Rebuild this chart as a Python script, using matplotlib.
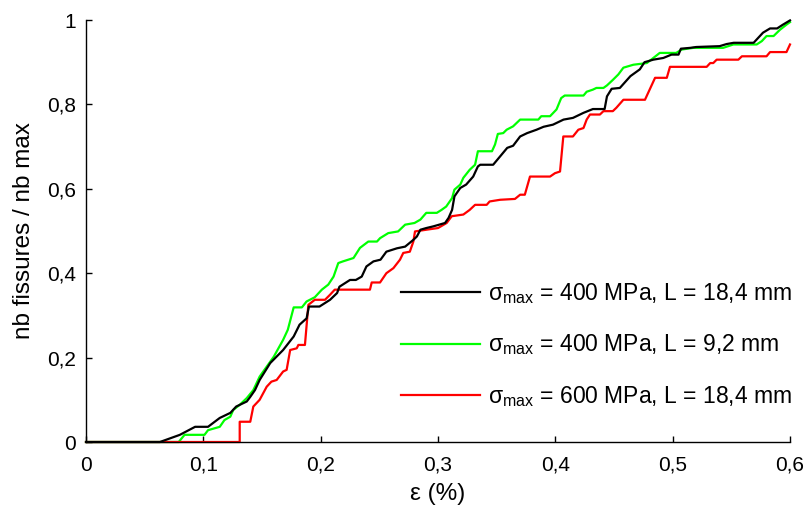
import matplotlib
matplotlib.use("Agg")
import matplotlib.pyplot as plt

plt.rcParams['font.family'] = ['Liberation Sans', 'DejaVu Sans']
plt.rcParams['mathtext.fontset'] = 'custom'
plt.rcParams['mathtext.rm'] = 'Liberation Sans'
plt.rcParams['mathtext.it'] = 'Liberation Sans'

# ---- data ----
black_x = [0, .063, .080, .093, .104, .114, .123, .128, .137, .140, .144, .148, .157, .168, .177, .182, .188, .190,
           .199, .208, .214, .216, .225, .230, .235, .239, .245, .251, .256, .265, .272, .279, .282, .285, .290, .296,
           .306, .309, .312, .314, .319, .324, .330, .334, .336, .347, .353, .359, .364, .370, .376, .384, .390, .398,
           .407, .415, .424, .432, .442, .444, .448, .455, .464, .472, .476, .4835, .492, .499, .505, .507, .515, .520,
           .540, .546, .552, .569, .577, .583, .589, .594, .600]
black_y = [0, 0, .017, .036, .036, .057, .069, .084, .096, .107, .123, .147, .187, .218, .250, .278, .293, .321,
           .321, .337, .353, .368, .384, .384, .392, .416, .428, .432, .451, .459, .463, .479, .487, .503, .507, .511,
           .519, .531, .550, .582, .602, .610, .629, .653, .657, .657, .677, .697, .702, .724, .732, .740, .747, .752,
           .764, .768, .780, .789, .789, .819, .837, .839, .867, .883, .900, .906, .910, .918, .918, .932, .934, .936,
           .938, .943, .946, .946, .970, .980, .980, .989, .999]

green_x = [0, .079, .084, .101, .104, .114, .118, .123, .1255, .131, .137, .1426, .148, .160, .168, .172, .177, .184,
           .188, .195, .201, .2065, .211, .215, .219, .228, .2335, .2406, .248, .2506, .2576, .266, .272, .280, .285,
           .290, .299, .303, .307, .312, .314, .319, .3216, .327, .3316, .334, .346, .3486, .351, .3556, .3585, .364,
           .370, .3855, .388, .3955, .401, .405, .408, .424, .4267, .432, .435, .441, .444, .449, .4537, .458, .4665,
           .478, .4835, .489, .503, .5077, .5176, .543, .5517, .5716, .576, .580, .586, .5915, .597, .600]
green_y = [0, 0, .017, .017, .028, .036, .052, .060, .076, .088, .104, .123, .155, .202, .242, .266, .319, .319,
           .333, .343, .361, .373, .392, .424, .428, .436, .460, .475, .475, .483, .495, .499, .515, .519, .527,
           .543, .543, .550, .558, .578, .598, .610, .626, .645, .657, .689, .689, .705, .730, .732, .740, .748,
           .764, .764, .772, .772, .788, .815, .821, .821, .830, .835, .839, .839, .845, .858, .871, .887, .894,
           .898, .910, .922, .922, .930, .934, .934, .942, .942, .950, .962, .962, .977, .989, .995]

red_x = [0, .131, .131, .140, .1426, .148, .154, .158, .1625, .168, .171, .174, .1796, .181, .1866, .1895, .195,
         .2037, .208, .212, .242, .2435, .2506, .256, .262, .2676, .2704, .276, .279, .2804, .290, .300, .3074, .3117,
         .3216, .327, .3316, .3415, .344, .353, .3656, .370, .374, .3784, .3955, .3997, .404, .4068, .415, .4196,
         .424, .4267, .4295, .438, .441, .449, .452, .458, .4764, .485, .495, .4977, .529, .532, .5346, .5375, .556,
         .559, .580, .583, .597, .600]
red_y = [0, 0, .048, .048, .084, .100, .131, .143, .147, .167, .171, .218, .222, .230, .230, .325, .337,
         .337, .349, .361, .361, .378, .378, .400, .412, .432, .448, .451, .475, .499, .503, .507, .519, .535,
         .539, .550, .562, .562, .570, .574, .576, .586, .586, .629, .629, .637, .641, .724, .724, .740,
         .744, .764, .776, .776, .784, .784, .792, .811, .811, .863, .863, .889, .889, .898, .898, .906, .906,
         .914, .914, .924, .924, .942]

labels = ['σ$_{\\mathrm{max}}$ = 400 MPa, L = 18,4 mm',
          'σ$_{\\mathrm{max}}$ = 400 MPa, L = 9,2 mm',
          'σ$_{\\mathrm{max}}$ = 600 MPa, L = 18,4 mm']
xticks = [0, 0.1, 0.2, 0.3, 0.4, 0.5, 0.6]
xticklabels = ['0', '0,1', '0,2', '0,3', '0,4', '0,5', '0,6']
yticks = [0, 0.2, 0.4, 0.6, 0.8, 1.0]
yticklabels = ['0', '0,2', '0,4', '0,6', '0,8', '1']

fig = plt.figure(figsize=(8.11, 5.07), dpi=100)
ax = fig.add_axes([86/811, 1-442/507, (790-86)/811, (442-20)/507])

lw = 1.6
lg, = ax.plot(green_x, green_y, color='#00ff00', lw=lw, clip_on=False)
lr, = ax.plot(red_x, red_y, color='#ff0000', lw=lw, clip_on=False)
lb, = ax.plot(black_x, black_y, color='black', lw=lw, clip_on=False)

ax.set_xlim(0, 0.6)
ax.set_ylim(0, 1)
ax.set_xticks(xticks)
ax.set_xticklabels(xticklabels)
ax.set_yticks(yticks)
ax.set_yticklabels(yticklabels)
ax.spines['top'].set_visible(False)
ax.spines['right'].set_visible(False)
for s in ('left', 'bottom'):
    ax.spines[s].set_linewidth(1.0)
ax.tick_params(direction='in', length=4, width=1.0, labelsize=15)
ax.tick_params(axis='x', pad=10)
ax.tick_params(axis='y', pad=7)

ax.set_xlabel('ε (%)', fontsize=17.5, labelpad=6)
ax.set_ylabel('nb fissures / nb max', fontsize=17.5, labelpad=9)

fs = 16.5
leg = ax.legend([lb, lg, lr], labels, loc='center left',
                bbox_to_anchor=(401/811, 1-345/507), bbox_transform=fig.transFigure,
                frameon=False, fontsize=fs, handlelength=79/22.9, handletextpad=0.35,
                labelspacing=1.18, borderpad=0, borderaxespad=0)
for l in leg.get_lines():
    l.set_linewidth(1.6)

fig.savefig('out.png', dpi=100)
